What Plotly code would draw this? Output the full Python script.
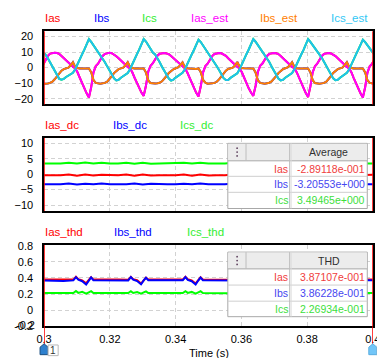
import numpy as np
import plotly.graph_objects as go

W, H = 385, 358
def X(px): return px / W
def Y(py): return 1 - py / H

FONT = "Liberation Sans, Arial, sans-serif"

# ---------------- data ----------------
period = 1 / 60
# sample times: 24 samples per 60 Hz cycle
t_wave = 0.29975 + np.arange(146) * (period / 24)

ias = [2.0, 5.0, 7.5, 9.0, 9.5, 9.6, 9.4, 8.8, 7.5, 6.0, 4.5, 3.0, 1.8, 0.5, -0.5, -3.0, -6.5, -10.0, -13.5, -16.5,
       -19.2, -12.5, -3.0, 1.0, 2.5, 5.0, 7.5, 8.8, 9.4, 9.5, 9.2, 8.5, 7.3, 6.0, 4.5, 3.0, 1.7, 0.4, -0.6, -3.0, -6.5, -10.0, -13.0, -16.0,
       -18.1, -11.5, -2.5, 1.2, 2.8, 5.2, 7.6, 8.9, 9.3, 9.3, 9.1, 8.6, 7.5, 6.1, 4.6, 3.1, 1.9, 0.6, -0.5, -2.8, -6.3, -9.8, -13.0, -16.2,
       -18.5, -12.0, -3.0, 1.0, 2.5, 5.0, 7.4, 8.7, 9.2, 9.3, 9.2, 8.6, 7.6, 6.0, 4.4, 3.0, 1.8, 0.5, -0.5, -3.0, -6.6, -10.2, -13.3, -16.0,
       -18.1, -11.8, -2.8, 1.1, 2.6, 5.1, 7.5, 8.8, 9.3, 9.4, 9.2, 8.7, 7.5, 5.9, 4.5, 3.0, 1.8, 0.5, -0.4, -2.9, -6.4, -10.0, -13.2, -16.3,
       -18.8, -12.2, -3.1, 0.9, 2.5, 5.0, 7.5, 8.8, 9.3, 9.4, 9.1, 8.5, 7.4, 6.0, 4.5, 3.1, 1.8, 0.4, -0.6, -3.1, -6.7, -10.3, -13.6, -16.6,
       -19.2, -12.6, -3.2, 0.8, 2.4, 5.0]

ibs = [-10.4, -10.4, -10.2, -9.8, -9.0, -7.5, -5.5, -3.5, -2.0, -1.0, -0.5, 0.0, 1.5, 3.5, 0.5, -0.3, -0.5, -0.5, -0.7, -0.8,
       -0.5, -3.0, -8.0, -9.8, -10.2, -10.3, -10.0, -9.8, -9.0, -7.5, -5.5, -3.5, -2.0, -1.0, -0.5, 0.0, 1.5, 3.5, 0.5, -0.3, -0.5, -0.5, -0.7, -0.8,
       -0.6, -3.2, -8.2, -9.9, -10.1, -10.2, -10.0, -9.7, -8.8, -7.3, -5.4, -3.4, -2.1, -1.1, -0.4, 0.1, 1.6, 3.4, 0.4, -0.4, -0.5, -0.6, -0.7, -0.9,
       -0.5, -2.9, -7.9, -9.7, -10.3, -10.4, -10.1, -9.8, -9.1, -7.6, -5.6, -3.6, -2.0, -0.9, -0.5, 0.0, 1.4, 3.6, 0.6, -0.3, -0.4, -0.5, -0.6, -0.8,
       -0.6, -3.1, -8.1, -9.8, -10.2, -10.3, -10.0, -9.7, -8.9, -7.4, -5.5, -3.5, -2.1, -1.0, -0.4, 0.1, 1.5, 3.5, 0.5, -0.4, -0.5, -0.5, -0.7, -0.9,
       -0.5, -3.0, -8.0, -9.9, -10.3, -10.4, -10.1, -9.8, -9.0, -7.5, -5.5, -3.4, -2.0, -1.0, -0.5, 0.0, 1.6, 3.5, 0.5, -0.3, -0.5, -0.6, -0.7, -0.8,
       -0.6, -3.1, -8.1, -9.8, -10.3, -10.4]

ics = [9.5, 8.3, 6.0, 3.2, 0.5, -2.0, -4.8, -7.2, -7.8, -7.2, -6.0, -5.0, -4.0, -3.3, -1.0, 2.5, 5.5, 8.5, 11.5, 15.0,
       18.3, 16.5, 14.3, 12.0, 9.8, 8.3, 6.2, 3.5, 0.8, -1.7, -4.2, -6.9, -8.2, -7.8, -6.5, -5.5, -4.5, -3.5, -1.0, 2.5, 5.5, 8.5, 11.5, 15.0,
       18.3, 16.7, 14.5, 12.0, 9.7, 8.4, 6.3, 3.4, 0.6, -2.0, -4.5, -7.0, -8.3, -7.7, -6.4, -5.4, -4.6, -3.4, -1.2, 2.3, 5.4, 8.3, 11.3, 14.8,
       17.9, 16.4, 14.2, 11.9, 9.9, 8.2, 6.1, 3.5, 0.9, -1.6, -4.1, -6.8, -8.0, -7.9, -6.6, -5.6, -4.4, -3.6, -1.1, 2.4, 5.6, 8.6, 11.6, 15.1,
       18.3, 16.6, 14.4, 12.1, 9.8, 8.3, 6.2, 3.6, 0.7, -1.8, -4.3, -7.0, -8.2, -7.8, -6.5, -5.5, -4.5, -3.5, -1.0, 2.5, 5.5, 8.4, 11.4, 15.0,
       18.3, 16.5, 14.3, 12.0, 9.7, 8.3, 6.3, 3.5, 0.8, -1.7, -4.2, -6.9, -8.1, -7.8, -6.5, -5.4, -4.5, -3.4, -1.1, 2.4, 5.4, 8.5, 11.5, 14.8,
       17.9, 16.3, 14.2, 11.9, 9.7, 8.4]

ias_est = list(ias)
ibs_est = list(ibs)
ics_est = list(ics)

t_dc = np.linspace(0.3, 0.4, 41)
ias_dc = [-0.35, -0.35, -0.35, -0.1, -0.5, -0.15, -0.45, -0.2,
          -0.35, -0.35, -0.1, -0.5, -0.15, -0.45,
          -0.35, -0.35, -0.35, -0.1, -0.5, -0.15, -0.45,
          -0.35, -0.35, -0.1, -0.5, -0.15, -0.45,
          -0.35, -0.35, -0.35, -0.1, -0.5, -0.15, -0.45,
          -0.35, -0.35, -0.1, -0.5, -0.15, -0.3, -0.2]
ibs_dc = [-3.3, -3.3, -3.3, -3.05, -3.35, -3.1, -3.3, -3.05,
          -3.3, -3.3, -3.3, -3.05, -3.35, -3.1,
          -3.3, -3.3, -3.3, -3.1, -3.3, -3.05, -3.3,
          -3.3, -3.3, -3.05, -3.35, -3.1, -3.3,
          -3.3, -3.3, -3.3, -3.05, -3.35, -3.1, -3.3,
          -3.3, -3.3, -3.05, -3.35, -3.1, -3.3, -3.3]
ics_dc = [3.42, 3.42, 3.42, 3.7, 3.45, 3.72, 3.42, 3.7,
          3.42, 3.42, 3.7, 3.35, 3.68, 3.35,
          3.42, 3.42, 3.42, 3.7, 3.42, 3.7, 3.42,
          3.42, 3.42, 3.7, 3.35, 3.68, 3.35,
          3.42, 3.42, 3.42, 3.7, 3.45, 3.72, 3.42,
          3.42, 3.42, 3.7, 3.35, 3.68, 3.42, 3.42]

t_thd = [0.3000,
         0.3059, 0.3089, 0.3097, 0.3104, 0.3116, 0.3128, 0.3136, 0.3143, 0.3150, 0.3169,
         0.3226, 0.3256, 0.3264, 0.3271, 0.3283, 0.3295, 0.3303, 0.3310, 0.3317, 0.3336,
         0.3392, 0.3422, 0.3430, 0.3437, 0.3449, 0.3461, 0.3469, 0.3476, 0.3483, 0.3502,
         0.3559, 0.3589, 0.3597, 0.3604, 0.3616, 0.3628, 0.3636, 0.3643, 0.3650, 0.3669,
         0.3726, 0.3756, 0.3764, 0.3771, 0.3783, 0.3795, 0.3803, 0.3810, 0.3817, 0.3836,
         0.3892, 0.3922, 0.3930, 0.3937, 0.3949, 0.3961, 0.3969, 0.3976, 0.3983, 0.4000]
ias_thd = [0.380,
           0.375, 0.380, 0.415, 0.385, 0.370, 0.335, 0.375, 0.410, 0.380, 0.382,
           0.380, 0.378, 0.412, 0.385, 0.372, 0.330, 0.378, 0.405, 0.382, 0.380,
           0.382, 0.380, 0.415, 0.383, 0.370, 0.332, 0.375, 0.408, 0.380, 0.380,
           0.380, 0.378, 0.412, 0.385, 0.372, 0.335, 0.376, 0.410, 0.380, 0.380,
           0.382, 0.380, 0.414, 0.384, 0.371, 0.332, 0.377, 0.408, 0.381, 0.380,
           0.380, 0.379, 0.413, 0.385, 0.372, 0.334, 0.376, 0.410, 0.382, 0.380]
ibs_thd = [0.368,
           0.362, 0.370, 0.410, 0.378, 0.360, 0.318, 0.368, 0.408, 0.372, 0.372,
           0.372, 0.370, 0.412, 0.378, 0.362, 0.322, 0.370, 0.402, 0.372, 0.372,
           0.372, 0.372, 0.410, 0.376, 0.360, 0.320, 0.368, 0.405, 0.372, 0.370,
           0.372, 0.370, 0.410, 0.378, 0.362, 0.320, 0.368, 0.406, 0.372, 0.372,
           0.372, 0.371, 0.410, 0.377, 0.361, 0.321, 0.369, 0.404, 0.372, 0.371,
           0.372, 0.370, 0.410, 0.378, 0.362, 0.320, 0.368, 0.406, 0.372, 0.372]
ics_thd = [0.212,
           0.212, 0.212, 0.238, 0.215, 0.228, 0.205, 0.222, 0.236, 0.212, 0.212,
           0.212, 0.213, 0.236, 0.214, 0.226, 0.204, 0.220, 0.234, 0.212, 0.212,
           0.212, 0.212, 0.236, 0.215, 0.227, 0.205, 0.221, 0.235, 0.212, 0.210,
           0.210, 0.212, 0.236, 0.214, 0.226, 0.205, 0.221, 0.234, 0.212, 0.212,
           0.212, 0.212, 0.236, 0.215, 0.227, 0.205, 0.220, 0.235, 0.212, 0.212,
           0.212, 0.212, 0.236, 0.214, 0.226, 0.205, 0.221, 0.235, 0.212, 0.212]

row_names = ["Ias", "Ibs", "Ics"]
avg_values = ["-2.89118e-001", "-3.20553e+000", "3.49465e+000"]
thd_values = ["3.87107e-001", "3.86228e-001", "2.26934e-001"]

x_ticks = [0.3, 0.32, 0.34, 0.36, 0.38, 0.4]
y1_ticks = [-20, -10, 0, 10, 20]
y2_ticks = [-10, -5, 0, 5, 10]
y3_ticks = [-0.2, 0, 0.2, 0.4, 0.6, 0.8]
y3_labels = ["-0.2", "0", "0.2", "0.4", "0.6", "0.8"]

# ---------------- colours ----------------
C_RED, C_BLUE, C_GREEN = "#FF0000", "#0000FF", "#00FF00"
C_MAG, C_ORA, C_CYAN = "#FF00FF", "#FF8000", "#1EC0F0"
row_colors = ["#F03C3C", "#4646F0", "#3CE03C"]

fig = go.Figure()

def add(x, y, color, xa, ya, w=2):
    fig.add_trace(go.Scatter(x=x, y=y, mode="lines", line=dict(color=color, width=w),
                             xaxis=xa, yaxis=ya, showlegend=False, hoverinfo="skip"))

add(t_wave, ias, C_RED, "x", "y")
add(t_wave, ibs, C_BLUE, "x", "y")
add(t_wave, ics, C_GREEN, "x", "y")
add(t_wave, ias_est, C_MAG, "x", "y")
add(t_wave, ibs_est, C_ORA, "x", "y")
add(t_wave, ics_est, C_CYAN, "x", "y")

add(t_dc, ias_dc, C_RED, "x2", "y2")
add(t_dc, ibs_dc, C_BLUE, "x2", "y2")
add(t_dc, ics_dc, C_GREEN, "x2", "y2")

add(t_thd, ias_thd, C_RED, "x3", "y3")
add(t_thd, ibs_thd, C_BLUE, "x3", "y3")
add(t_thd, ics_thd, C_GREEN, "x3", "y3")

grid = dict(showgrid=True, gridcolor="#D2D2D2", griddash="4px,3px", gridwidth=1,
            zeroline=False, showline=True, linecolor="black", linewidth=1.5, mirror=True,
            ticks="", tickfont=dict(family=FONT, size=11, color="black"))

xdom = [X(29.3), X(372.3)]
xcommon = dict(domain=xdom, range=[0.3, 0.4], tickvals=x_ticks, **grid)
fig.update_layout(
    xaxis=dict(anchor="y", showticklabels=False, **xcommon),
    xaxis2=dict(anchor="y2", showticklabels=False, **xcommon),
    xaxis3=dict(anchor="y3", showticklabels=True, ticktext=["0.3", "0.32", "0.34", "0.36", "0.38", "0.4"],
                ticklabelstandoff=2, **xcommon),
    yaxis=dict(anchor="x", domain=[Y(94.3), Y(18.7)], range=[-23.6, 23.4], tickvals=y1_ticks,
               ticklabelstandoff=7, **grid),
    yaxis2=dict(anchor="x2", domain=[Y(204.3), Y(129)], range=[-11.9, 11.65], tickvals=y2_ticks,
                ticklabelstandoff=7, **grid),
    yaxis3=dict(anchor="x3", domain=[Y(323.3), Y(239.3)], range=[-0.2008, 0.81], tickvals=y3_ticks,
                ticktext=y3_labels, ticklabelstandoff=7, **grid),
    width=W, height=H, margin=dict(l=0, r=0, t=0, b=0),
    plot_bgcolor="white", paper_bgcolor="white", showlegend=False,
)

shapes = []
annos = []

def text(px, py, s, color, size=11, anchor="left", yanchor="middle"):
    annos.append(dict(x=X(px), y=Y(py), xref="paper", yref="paper", text=s, showarrow=False,
                      xanchor=anchor, yanchor=yanchor, borderpad=0,
                      font=dict(family=FONT, size=size, color=color)))

def rect(x0, y0, x1, y1, fill, line="rgba(0,0,0,0)", lw=1):
    shapes.append(dict(type="rect", xref="paper", yref="paper", x0=X(x0), x1=X(x1), y0=Y(y1), y1=Y(y0),
                       fillcolor=fill, line=dict(color=line, width=lw), layer="above"))

def hline(x0, x1, py, color, lw=1):
    shapes.append(dict(type="line", xref="paper", yref="paper", x0=X(x0), x1=X(x1), y0=Y(py), y1=Y(py),
                       line=dict(color=color, width=lw), layer="above"))

def vline(px, y0, y1, color, lw=1):
    shapes.append(dict(type="line", xref="paper", yref="paper", x0=X(px), x1=X(px), y0=Y(y0), y1=Y(y1),
                       line=dict(color=color, width=lw), layer="above"))

# lowest tick label of the bottom panel sits on the frame edge; draw it explicitly
annos.append(dict(x=X(21.3), y=y3_ticks[0], xref="paper", yref="y3", text=y3_labels[0], showarrow=False,
                  xanchor="right", yanchor="middle", yshift=1, borderpad=0,
                  font=dict(family=FONT, size=11, color="black")))

# series labels
for px, s, c in [(29.3, "Ias", C_RED), (80, "Ibs", C_BLUE), (130, "Ics", "#33EE33"),
                 (181.5, "Ias_est", C_MAG), (253.5, "Ibs_est", C_ORA), (328, "Ics_est", "#33C8F5")]:
    text(px, 5.5, s, c, 11.5)
for px, s, c in [(29.3, "Ias_dc", C_RED), (100, "Ibs_dc", C_BLUE), (170, "Ics_dc", "#33EE33")]:
    text(px, 116, s, c, 11.5)
for px, s, c in [(29.3, "Ias_thd", C_RED), (101.5, "Ibs_thd", C_BLUE), (177, "Ics_thd", "#33EE33")]:
    text(px, 225.5, s, c, 11.5)

# tables
def table(top, hb, r1, r2, bottom, header, values):
    rect(221, top, 366.5, bottom, "white", "#A8A8A8", 1)
    rect(221.5, top + 0.5, 366, hb, "#ECECEC")
    hline(221, 366.5, hb, "#A8A8A8")
    hline(221, 366.5, r1, "#CFCFCF")
    hline(221, 366.5, r2, "#CFCFCF")
    vline(240, top, hb, "#BDBDBD")
    vline(285.5, top, bottom, "#BDBDBD")
    vline(287, top, bottom, "#DADADA")
    hc = (top + hb) / 2
    for dy in (-4, 0, 4):
        shapes.append(dict(type="circle", xref="paper", yref="paper",
                           x0=X(229.8), x1=X(231.6), y0=Y(hc + dy + 0.9), y1=Y(hc + dy - 0.9),
                           fillcolor="#5A3C5A", line=dict(width=0), layer="above"))
    text(326.5, hc, header, "#303030", 10.5, "center")
    rows = [(hb + r1) / 2, (r1 + r2) / 2, (r2 + bottom) / 2]
    for yc, name, val, col in zip(rows, row_names, values, row_colors):
        text(284.5, yc, name, col, 10.5, "right")
        text(365, yc, val, col, 10.5, "right")

table(134.5, 152.5, 168.5, 185, 201.7, "Average", avg_values)
table(246.7, 264, 280.7, 297.3, 313.3, "THD", thd_values)

# cursors (red lines in each panel)
for xa, ya in [("x", "y"), ("x2", "y2"), ("x3", "y3")]:
    for xv in (x_ticks[0], x_ticks[-1]):
        shapes.append(dict(type="line", xref=xa, yref=ya + " domain", x0=xv, x1=xv, y0=0, y1=1,
                           line=dict(color="#FF0000", width=1.5), layer="above"))
for xv in (x_ticks[0], x_ticks[-1]):
    shapes.append(dict(type="line", xref="x3", yref="paper", x0=xv, x1=xv, y0=Y(342), y1=Y(323.3),
                       line=dict(color="#FF0000", width=1.5), layer="above"))

def marker(cx, fill, edge):
    pts = [(cx, 341.3), (cx + 4.2, 344.8), (cx + 4.2, 352.5), (cx - 4.2, 352.5), (cx - 4.2, 344.8)]
    path = "M " + " L ".join(f"{X(a):.5f},{Y(b):.5f}" for a, b in pts) + " Z"
    shapes.append(dict(type="path", xref="paper", yref="paper", path=path, fillcolor=fill,
                       line=dict(color=edge, width=1), layer="above"))

marker(29.3, "#2E80CE", "#1B4F82")
marker(372.3, "#72C6F8", "#5AAEE0")
rect(33.5, 342.5, 44, 353.5, "white", "#B8B8B8", 1)
text(38.8, 348.3, "1", "#333333", 10, "center")
rect(377, 342.5, 390, 353.5, "white", "#B8B8B8", 1)
text(381.3, 348.3, "2", "#333333", 10, "center")

text(201, 350.5, "Time (s)", "black", 11, "center")

fig.update_layout(shapes=shapes, annotations=annos)
fig.write_html("out.html")
